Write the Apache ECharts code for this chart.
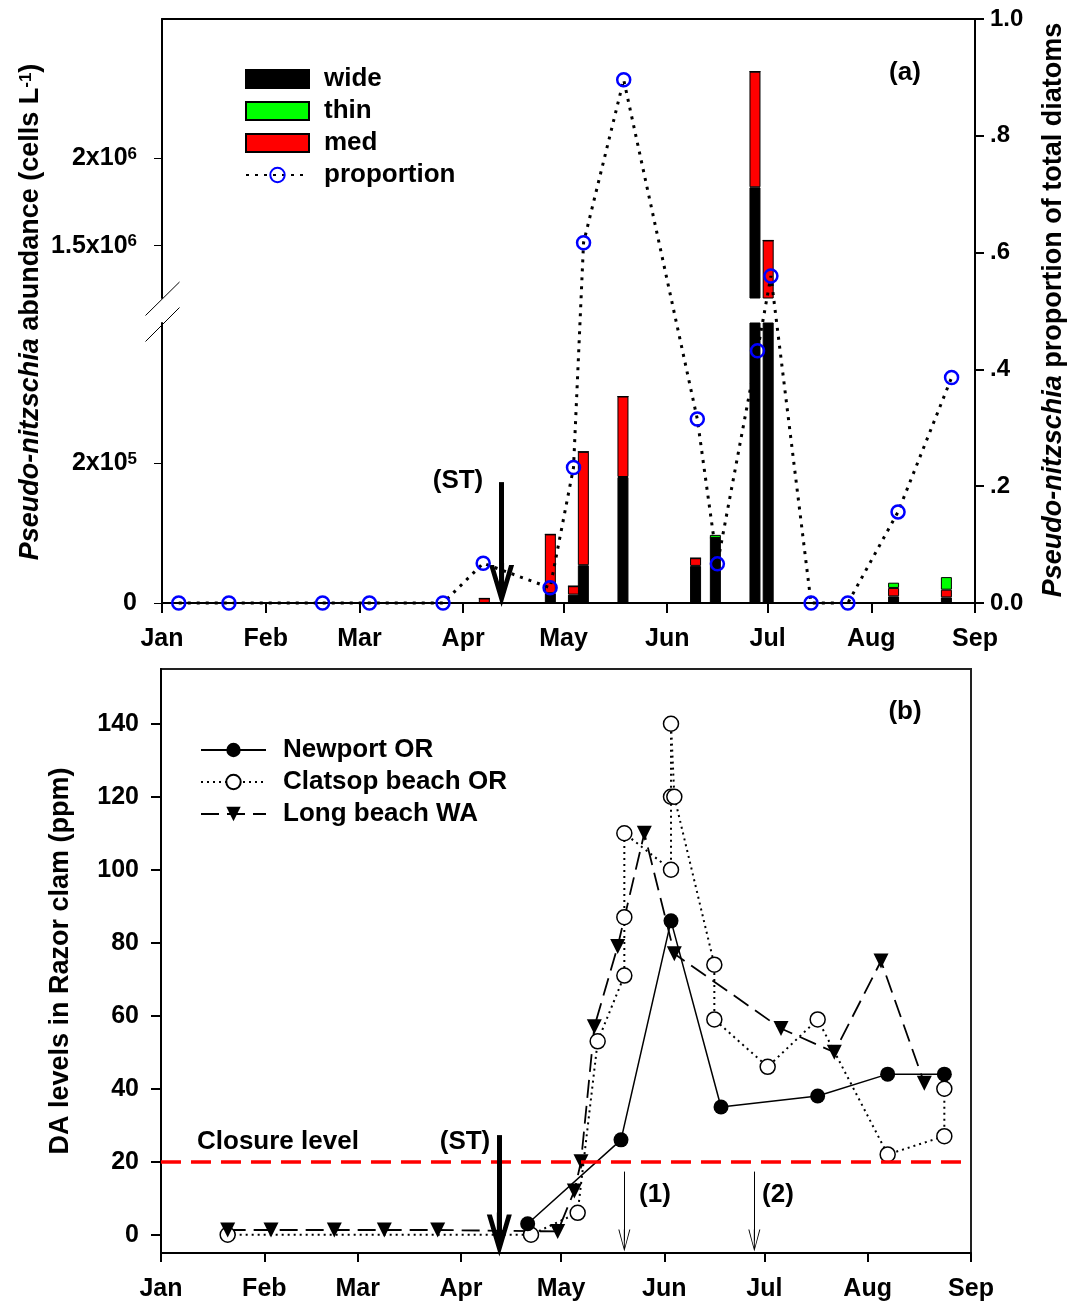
<!DOCTYPE html>
<html>
<head>
<meta charset="utf-8">
<script src="https://cdn.jsdelivr.net/npm/echarts@6/dist/echarts.min.js"></script>
<style>
  html, body { margin: 0; padding: 0; background: #fff; }
  #chart { width: 1080px; height: 1304px; }
</style>
</head>
<body>
<div id="chart"></div>
<script>
// ---- panel (a): Pseudo-nitzschia abundance by size class (cells L-1) ----
var barDates  = ['2002-04-07', '2002-04-27', '2002-05-04', '2002-05-07', '2002-05-19', '2002-06-10', '2002-06-16', '2002-06-28', '2002-07-02', '2002-08-09', '2002-08-25'];
var wideCells = [0, 14000, 12000, 54000, 180000, 53000, 93000, 1835000, 1100000, 9500, 8000];
var medCells  = [6500, 84000, 12000, 162000, 115000, 11000, 0, 663000, 430000, 12000, 11000];
var thinCells = [0, 0, 0, 0, 0, 0, 4300, 0, 0, 7500, 18000];

// proportion of total diatoms
var propDates  = ['2002-01-06', '2002-01-21', '2002-02-18', '2002-03-04', '2002-03-26', '2002-04-07', '2002-04-27', '2002-05-04', '2002-05-07', '2002-05-19', '2002-06-10', '2002-06-16', '2002-06-28', '2002-07-02', '2002-07-14', '2002-07-25', '2002-08-09', '2002-08-25'];
var propValues = [0, 0, 0, 0, 0, 0.068, 0.026, 0.232, 0.617, 0.896, 0.315, 0.067, 0.432, 0.56, 0, 0, 0.156, 0.386];

// broken left axis: tick values and labels
var lowTicks   = [0, 200000];
var lowLabels  = ['0', '2x10{s|5}'];
var highTicks  = [1500000, 2000000];
var highLabels = ['1.5x10{s|6}', '2x10{s|6}'];

// ---- panel (b): DA levels in razor clams (ppm) ----
var newportDates = ['2002-04-21', '2002-05-19', '2002-06-03', '2002-06-18', '2002-07-17', '2002-08-07', '2002-08-24'];
var newportDA    = [3, 26, 86, 35, 38, 44, 44];

var clatsopDates = ['2002-01-21', '2002-04-22', '2002-05-06', '2002-05-12', '2002-05-20', '2002-05-20', '2002-05-20', '2002-06-03', '2002-06-03', '2002-06-03', '2002-06-04', '2002-06-16', '2002-06-16', '2002-07-02', '2002-07-17', '2002-08-07', '2002-08-24', '2002-08-24'];
var clatsopDA    = [0, 0, 6, 53, 71, 87, 110, 100, 120, 140, 120, 74, 59, 46, 59, 22, 27, 40];

var longDates = ['2002-01-21', '2002-02-03', '2002-02-22', '2002-03-09', '2002-03-25', '2002-04-30', '2002-05-05', '2002-05-07', '2002-05-11', '2002-05-18', '2002-05-26', '2002-06-04', '2002-07-06', '2002-07-22', '2002-08-05', '2002-08-18'];
var longDA    = [1.3, 1.3, 1.3, 1.3, 1.3, 0.9, 12, 20, 57, 79, 110, 77, 56.5, 50, 75, 41.5];

var daTicks = [0, 20, 40, 60, 80, 100, 120, 140];
var closureLevel = 20;

// annotations (arrow ends sit at the centre of the arrow head)
var stDate = '2002-04-12 12:00';   // spring transition
var event1Date = '2002-05-20';
var event2Date = '2002-06-28';

var FONT = '"Liberation Sans", Arial, sans-serif';
var DAY = 24 * 3600 * 1000;
var xMin = '2002-01-01', xMax = '2002-09-01';

function pairs(xs, ys) {
  return xs.map(function (x, i) { return [x, ys[i]]; });
}

// arrow heads drawn pointing up, the mark line turns them along the line
var thickHead = 'path://M12.5,0 L25,42 L20,42 L15,24.7 L15,44 L10,44 L10,24.7 L5,42 L0,42 Z';
var thinHead = 'path://M6,0 L12,22 L11,22 L6.5,4.5 L6.5,22 L5.5,22 L5.5,4.5 L1,22 L0,22 Z';
var downTri = 'path://M0,0 L10,0 L5,9 Z';

var boldLabel = { color: '#000', fontFamily: FONT, fontWeight: 'bold' };
var supRich = { s: { fontFamily: FONT, fontWeight: 'bold', fontSize: 17, verticalAlign: 'top', color: '#000' } };

function monthAxis(grid, extra) {
  return Object.assign({
    type: 'time', gridIndex: grid, min: xMin, max: xMax,
    minInterval: 28 * DAY, maxInterval: 31 * DAY,
    splitLine: { show: false }
  }, extra);
}

var blackAxisLine = { show: true, onZero: false, lineStyle: { color: '#000', width: 2 } };

function barSeries(name, values, color, gridAxis, stack) {
  return {
    name: name, type: 'bar', stack: stack,
    xAxisIndex: gridAxis.x, yAxisIndex: gridAxis.y,
    data: pairs(barDates, values),
    barWidth: 11, clip: true,
    itemStyle: { color: color, borderColor: '#000', borderWidth: 1 }
  };
}

var lowAxes = { x: 3, y: 2 }, highAxes = { x: 2, y: 1 };

var chart = echarts.init(document.getElementById('chart'));

var option = {
  animation: false,
  backgroundColor: '#fff',
  textStyle: { fontFamily: FONT },
  grid: [
    { left: 162, top: 19, width: 813, height: 584, outerBoundsMode: 'none' },
    { left: 162, top: 19, width: 813, height: 279, outerBoundsMode: 'none' },
    { left: 162, top: 323, width: 813, height: 280, outerBoundsMode: 'none' },
    { left: 161, top: 669, width: 810, height: 584, outerBoundsMode: 'none',
      show: true, borderColor: '#222', borderWidth: 2 }
  ],
  xAxis: [
    monthAxis(0, {
      position: 'bottom',
      axisLine: blackAxisLine,
      axisTick: { show: true, length: 10, lineStyle: { color: '#000', width: 2 } },
      axisLabel: Object.assign({ fontSize: 25, margin: 24, formatter: '{MMM}', showMinLabel: true, showMaxLabel: true }, boldLabel)
    }),
    monthAxis(0, {
      position: 'top',
      axisLine: blackAxisLine,
      axisTick: { show: false }, axisLabel: { show: false }
    }),
    monthAxis(1, { show: false }),
    monthAxis(2, { show: false }),
    monthAxis(3, {
      position: 'bottom',
      axisLine: blackAxisLine,
      axisTick: { show: true, length: 9, lineStyle: { color: '#000', width: 2 } },
      axisLabel: Object.assign({ fontSize: 25, margin: 24, formatter: '{MMM}', showMinLabel: true, showMaxLabel: true }, boldLabel)
    })
  ],
  yAxis: [
    { // proportion, right
      type: 'value', gridIndex: 0, position: 'right', min: 0, max: 1, interval: 0.2,
      axisLine: blackAxisLine,
      axisTick: { show: true, length: 9, lineStyle: { color: '#000', width: 2 } },
      axisLabel: Object.assign({
        fontSize: 24, margin: 15,
        formatter: function (v) {
          if (v === 0) return '0.0';
          if (v >= 0.999) return '1.0';
          return '.' + Math.round(v * 10);
        }
      }, boldLabel),
      splitLine: { show: false }
    },
    { // upper segment of broken abundance axis
      type: 'value', gridIndex: 1, min: 1200000, max: 2800000,
      axisLine: blackAxisLine,
      axisTick: { show: true, length: 8, customValues: highTicks, lineStyle: { color: '#000', width: 1 } },
      axisLabel: Object.assign({
        fontSize: 25, margin: 25, customValues: highTicks, rich: supRich,
        formatter: function (v) { return highLabels[highTicks.indexOf(v)]; }
      }, boldLabel),
      splitLine: { show: false }
    },
    { // lower segment
      type: 'value', gridIndex: 2, min: 0, max: 400000,
      axisLine: blackAxisLine,
      axisTick: { show: true, length: 8, customValues: lowTicks, lineStyle: { color: '#000', width: 1 } },
      axisLabel: Object.assign({
        fontSize: 25, margin: 25, customValues: lowTicks, rich: supRich,
        formatter: function (v) { return lowLabels[lowTicks.indexOf(v)]; }
      }, boldLabel),
      splitLine: { show: false }
    },
    { // DA ppm
      type: 'value', gridIndex: 3, min: -5, max: 155,
      axisLine: blackAxisLine,
      axisTick: { show: true, length: 10, customValues: daTicks, lineStyle: { color: '#000', width: 2 } },
      axisLabel: Object.assign({ fontSize: 25, margin: 22, customValues: daTicks }, boldLabel),
      splitLine: { show: false }
    }
  ],
  legend: [
    {
      left: 245, top: 66, orient: 'vertical', padding: 0,
      itemWidth: 63, itemHeight: 18, itemGap: 6,
      selectedMode: false,
      textStyle: { fontSize: 26, fontWeight: 'bold', color: '#000', fontFamily: FONT, lineHeight: 26, padding: [0, 0, 0, 10] },
      data: [
        { name: 'wide', icon: 'rect' },
        { name: 'thin', icon: 'rect' },
        { name: 'med', icon: 'rect' },
        'proportion'
      ]
    },
    {
      left: 200, top: 737, orient: 'vertical', padding: 0,
      itemWidth: 65, itemHeight: 18, itemGap: 6,
      selectedMode: false,
      textStyle: { fontSize: 26, fontWeight: 'bold', color: '#000', fontFamily: FONT, lineHeight: 26, padding: [0, 0, 0, 12] },
      data: ['Newport OR', 'Clatsop beach OR', 'Long beach WA']
    }
  ],
  series: [
    // lower segment bars (stack order: wide, med, thin)
    barSeries('wide', wideCells, '#000000', lowAxes, 'lo'),
    barSeries('med', medCells, '#ff0000', lowAxes, 'lo'),
    barSeries('thin', thinCells, '#00ff00', lowAxes, 'lo'),
    // upper segment bars
    barSeries('wide', wideCells, '#000000', highAxes, 'hi'),
    barSeries('med', medCells, '#ff0000', highAxes, 'hi'),
    barSeries('thin', thinCells, '#00ff00', highAxes, 'hi'),
    {
      name: 'proportion', type: 'line', xAxisIndex: 0, yAxisIndex: 0,
      data: pairs(propDates, propValues),
      clip: false, z: 5,
      symbol: 'circle', symbolSize: 13,
      itemStyle: { color: 'rgba(0,0,0,0)', borderColor: '#0000ff', borderWidth: 2.5 },
      lineStyle: { color: '#000', width: 3, type: [3, 6] },
      markLine: {
        silent: true, animation: false,
        symbol: ['none', 'none'],
        label: { show: false },
        data: [
          [
            { coord: [stDate, 0.207], symbol: 'none', lineStyle: { color: '#000', width: 5, type: 'solid' } },
            { coord: [stDate, 0.031], symbol: thickHead, symbolSize: [25, 44] }
          ]
        ]
      }
    },
    {
      name: 'Newport OR', type: 'line', xAxisIndex: 4, yAxisIndex: 3,
      data: pairs(newportDates, newportDA),
      clip: false, z: 4,
      symbol: 'circle', symbolSize: 15,
      itemStyle: { color: '#000' },
      lineStyle: { color: '#000', width: 1.5 },
      markLine: {
        silent: true, animation: false,
        symbol: ['none', 'none'],
        label: { show: false },
        data: [
          { yAxis: closureLevel, symbol: 'none', lineStyle: { color: '#ff0000', width: 3.5, type: [20, 10] } },
          [
            { coord: [stDate, 27.3], symbol: 'none', lineStyle: { color: '#000', width: 5, type: 'solid' } },
            { coord: [stDate, 0.1], symbol: thickHead, symbolSize: [25, 44] }
          ],
          [
            { coord: [event1Date, 17.3], symbol: 'none', lineStyle: { color: '#000', width: 1, type: 'solid' } },
            { coord: [event1Date, -1.6], symbol: thinHead, symbolSize: [12, 22] }
          ],
          [
            { coord: [event2Date, 17.3], symbol: 'none', lineStyle: { color: '#000', width: 1, type: 'solid' } },
            { coord: [event2Date, -1.6], symbol: thinHead, symbolSize: [12, 22] }
          ]
        ]
      }
    },
    {
      name: 'Clatsop beach OR', type: 'line', xAxisIndex: 4, yAxisIndex: 3,
      data: pairs(clatsopDates, clatsopDA),
      z: 3,
      symbol: 'circle', symbolSize: 15,
      itemStyle: { color: '#fff', borderColor: '#000', borderWidth: 1.5 },
      lineStyle: { color: '#000', width: 2, type: [2, 4] }
    },
    {
      name: 'Long beach WA', type: 'line', xAxisIndex: 4, yAxisIndex: 3,
      data: pairs(longDates, longDA),
      z: 3,
      symbol: downTri, symbolSize: 15,
      itemStyle: { color: '#000' },
      lineStyle: { color: '#000', width: 1.8, type: [18, 8] }
    }
  ],
  graphic: [
    // axis break marks
    { type: 'line', shape: { x1: 145.5, y1: 315.5, x2: 179.5, y2: 282 }, style: { stroke: '#000', lineWidth: 1 } },
    { type: 'line', shape: { x1: 145.5, y1: 341.5, x2: 179.5, y2: 307.5 }, style: { stroke: '#000', lineWidth: 1 } },
    // axis titles
    {
      type: 'text', x: 31, y: 312, rotation: Math.PI / 2,
      style: {
        text: '{i|Pseudo-nitzschia} abundance (cells L{s|-1})',
        fontFamily: FONT, fontWeight: 'bold', fontSize: 27, fill: '#000',
        align: 'center', verticalAlign: 'middle',
        rich: {
          i: { fontFamily: FONT, fontWeight: 'bold', fontStyle: 'italic', fontSize: 27 },
          s: { fontFamily: FONT, fontWeight: 'bold', fontSize: 17, verticalAlign: 'top' }
        }
      }
    },
    {
      type: 'text', x: 1054, y: 310, rotation: Math.PI / 2,
      style: {
        text: '{i|Pseudo-nitzschia} proportion of total diatoms',
        fontFamily: FONT, fontWeight: 'bold', fontSize: 27, fill: '#000',
        align: 'center', verticalAlign: 'middle',
        rich: { i: { fontFamily: FONT, fontWeight: 'bold', fontStyle: 'italic', fontSize: 27 } }
      }
    },
    {
      type: 'text', x: 61, y: 961, rotation: Math.PI / 2,
      style: {
        text: 'DA levels in Razor clam (ppm)',
        font: 'bold 27px ' + FONT, fill: '#000', align: 'center', verticalAlign: 'middle'
      }
    },
    // panel labels and annotations
    { type: 'text', x: 905, y: 73, style: { text: '(a)', font: 'bold 26px ' + FONT, fill: '#000', align: 'center', verticalAlign: 'middle' } },
    { type: 'text', x: 905, y: 712, style: { text: '(b)', font: 'bold 26px ' + FONT, fill: '#000', align: 'center', verticalAlign: 'middle' } },
    { type: 'text', x: 458, y: 481, style: { text: '(ST)', font: 'bold 26px ' + FONT, fill: '#000', align: 'center', verticalAlign: 'middle' } },
    { type: 'text', x: 197, y: 1142, style: { text: 'Closure level', font: 'bold 26px ' + FONT, fill: '#000', align: 'left', verticalAlign: 'middle' } },
    { type: 'text', x: 465, y: 1142, style: { text: '(ST)', font: 'bold 26px ' + FONT, fill: '#000', align: 'center', verticalAlign: 'middle' } },
    { type: 'text', x: 655, y: 1195, style: { text: '(1)', font: 'bold 26px ' + FONT, fill: '#000', align: 'center', verticalAlign: 'middle' } },
    { type: 'text', x: 778, y: 1195, style: { text: '(2)', font: 'bold 26px ' + FONT, fill: '#000', align: 'center', verticalAlign: 'middle' } }
  ]
};

chart.setOption(option);
</script>
</body>
</html>
